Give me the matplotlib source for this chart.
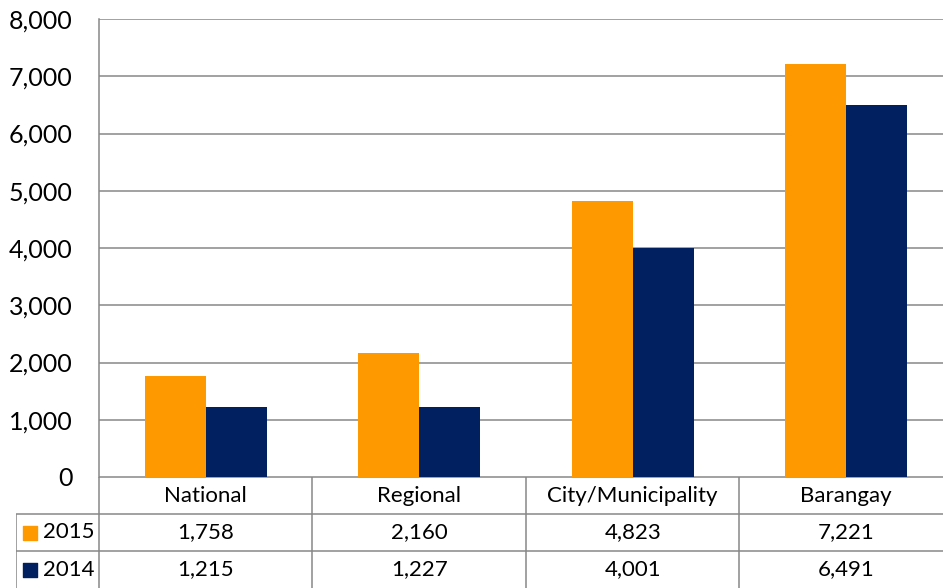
import matplotlib
matplotlib.use("Agg")
import matplotlib.pyplot as plt
import numpy as np

# data
categories = ["National", "Regional", "City/Municipality", "Barangay"]
series_names = ["2015", "2014"]
values_2015 = [1758, 2160, 4823, 7221]
values_2014 = [1215, 1227, 4001, 6491]
yticks = [0, 1000, 2000, 3000, 4000, 5000, 6000, 7000, 8000]

colors = ["#FF9900", "#002060"]
grid_col = "#878787"

plt.rcParams["font.family"] = ["Lato", "DejaVu Sans"]

W, H = 943, 588
fig = plt.figure(figsize=(W / 100, H / 100), dpi=100)

# pixel layout of the reference (plot runs a little past the right edge)
px_left, px_right = 99, 953
px_top, px_zero = 19, 477
tbl_left = 16

ax = fig.add_axes([px_left / W, 1 - px_zero / H,
                   (px_right - px_left) / W, (px_zero - px_top) / H])
n = len(categories)
x = np.arange(n)
bw = 0.286
ax.bar(x - bw / 2, values_2015, bw, color=colors[0], zorder=3)
ax.bar(x + bw / 2, values_2014, bw, color=colors[1], zorder=3)
ax.set_xlim(-0.5, n - 0.5)
ax.set_ylim(0, 8000)
ax.set_yticks(yticks)
ax.set_yticklabels([f"{v:,}" for v in yticks], fontsize=18)
ax.tick_params(axis="y", length=0, pad=19)
ax.set_xticks([])
ax.grid(axis="y", color=grid_col, lw=1.1, zorder=0)
for s in ["top", "right", "bottom"]:
    ax.spines[s].set_visible(False)
ax.spines["left"].set_color(grid_col)
ax.spines["left"].set_linewidth(1.1)

# data table under the plot
cat_px = (px_right - px_left) / n
lw_units = (px_left - tbl_left) / cat_px
tax = fig.add_axes([tbl_left / W, 0, (px_right - tbl_left) / W, (H - px_zero) / H])
tax.set_xlim(-0.5 - lw_units, n - 0.5)
tax.set_ylim(0, 3)
tax.axis("off")
lk = dict(color=grid_col, lw=1.1, solid_capstyle="butt")
tax.plot([-0.5, n - 0.5], [3, 3], **lk)
tax.plot([-0.5 - lw_units, n - 0.5], [2, 2], **lk)
tax.plot([-0.5 - lw_units, n - 0.5], [1, 1], **lk)
tax.plot([-0.5 - lw_units, -0.5 - lw_units], [0, 2], **lk)
for i in range(n):
    tax.plot([i - 0.5, i - 0.5], [0, 3], **lk)

for i, c in enumerate(categories):
    tax.text(i, 2.5, c, ha="center", va="center", fontsize=16)

rows = [values_2015, values_2014]
for r, (name, vals, col) in enumerate(zip(series_names, rows, colors)):
    yc = 1.5 - r
    tax.scatter([-0.5 - lw_units + 0.066], [yc], marker="s", s=110, color=col, clip_on=False)
    tax.text(-0.5 - lw_units + 0.125, yc, name, ha="left", va="center", fontsize=16)
    for i, v in enumerate(vals):
        tax.text(i, yc, f"{v:,}", ha="center", va="center", fontsize=16)

fig.savefig("out.png", dpi=100)
